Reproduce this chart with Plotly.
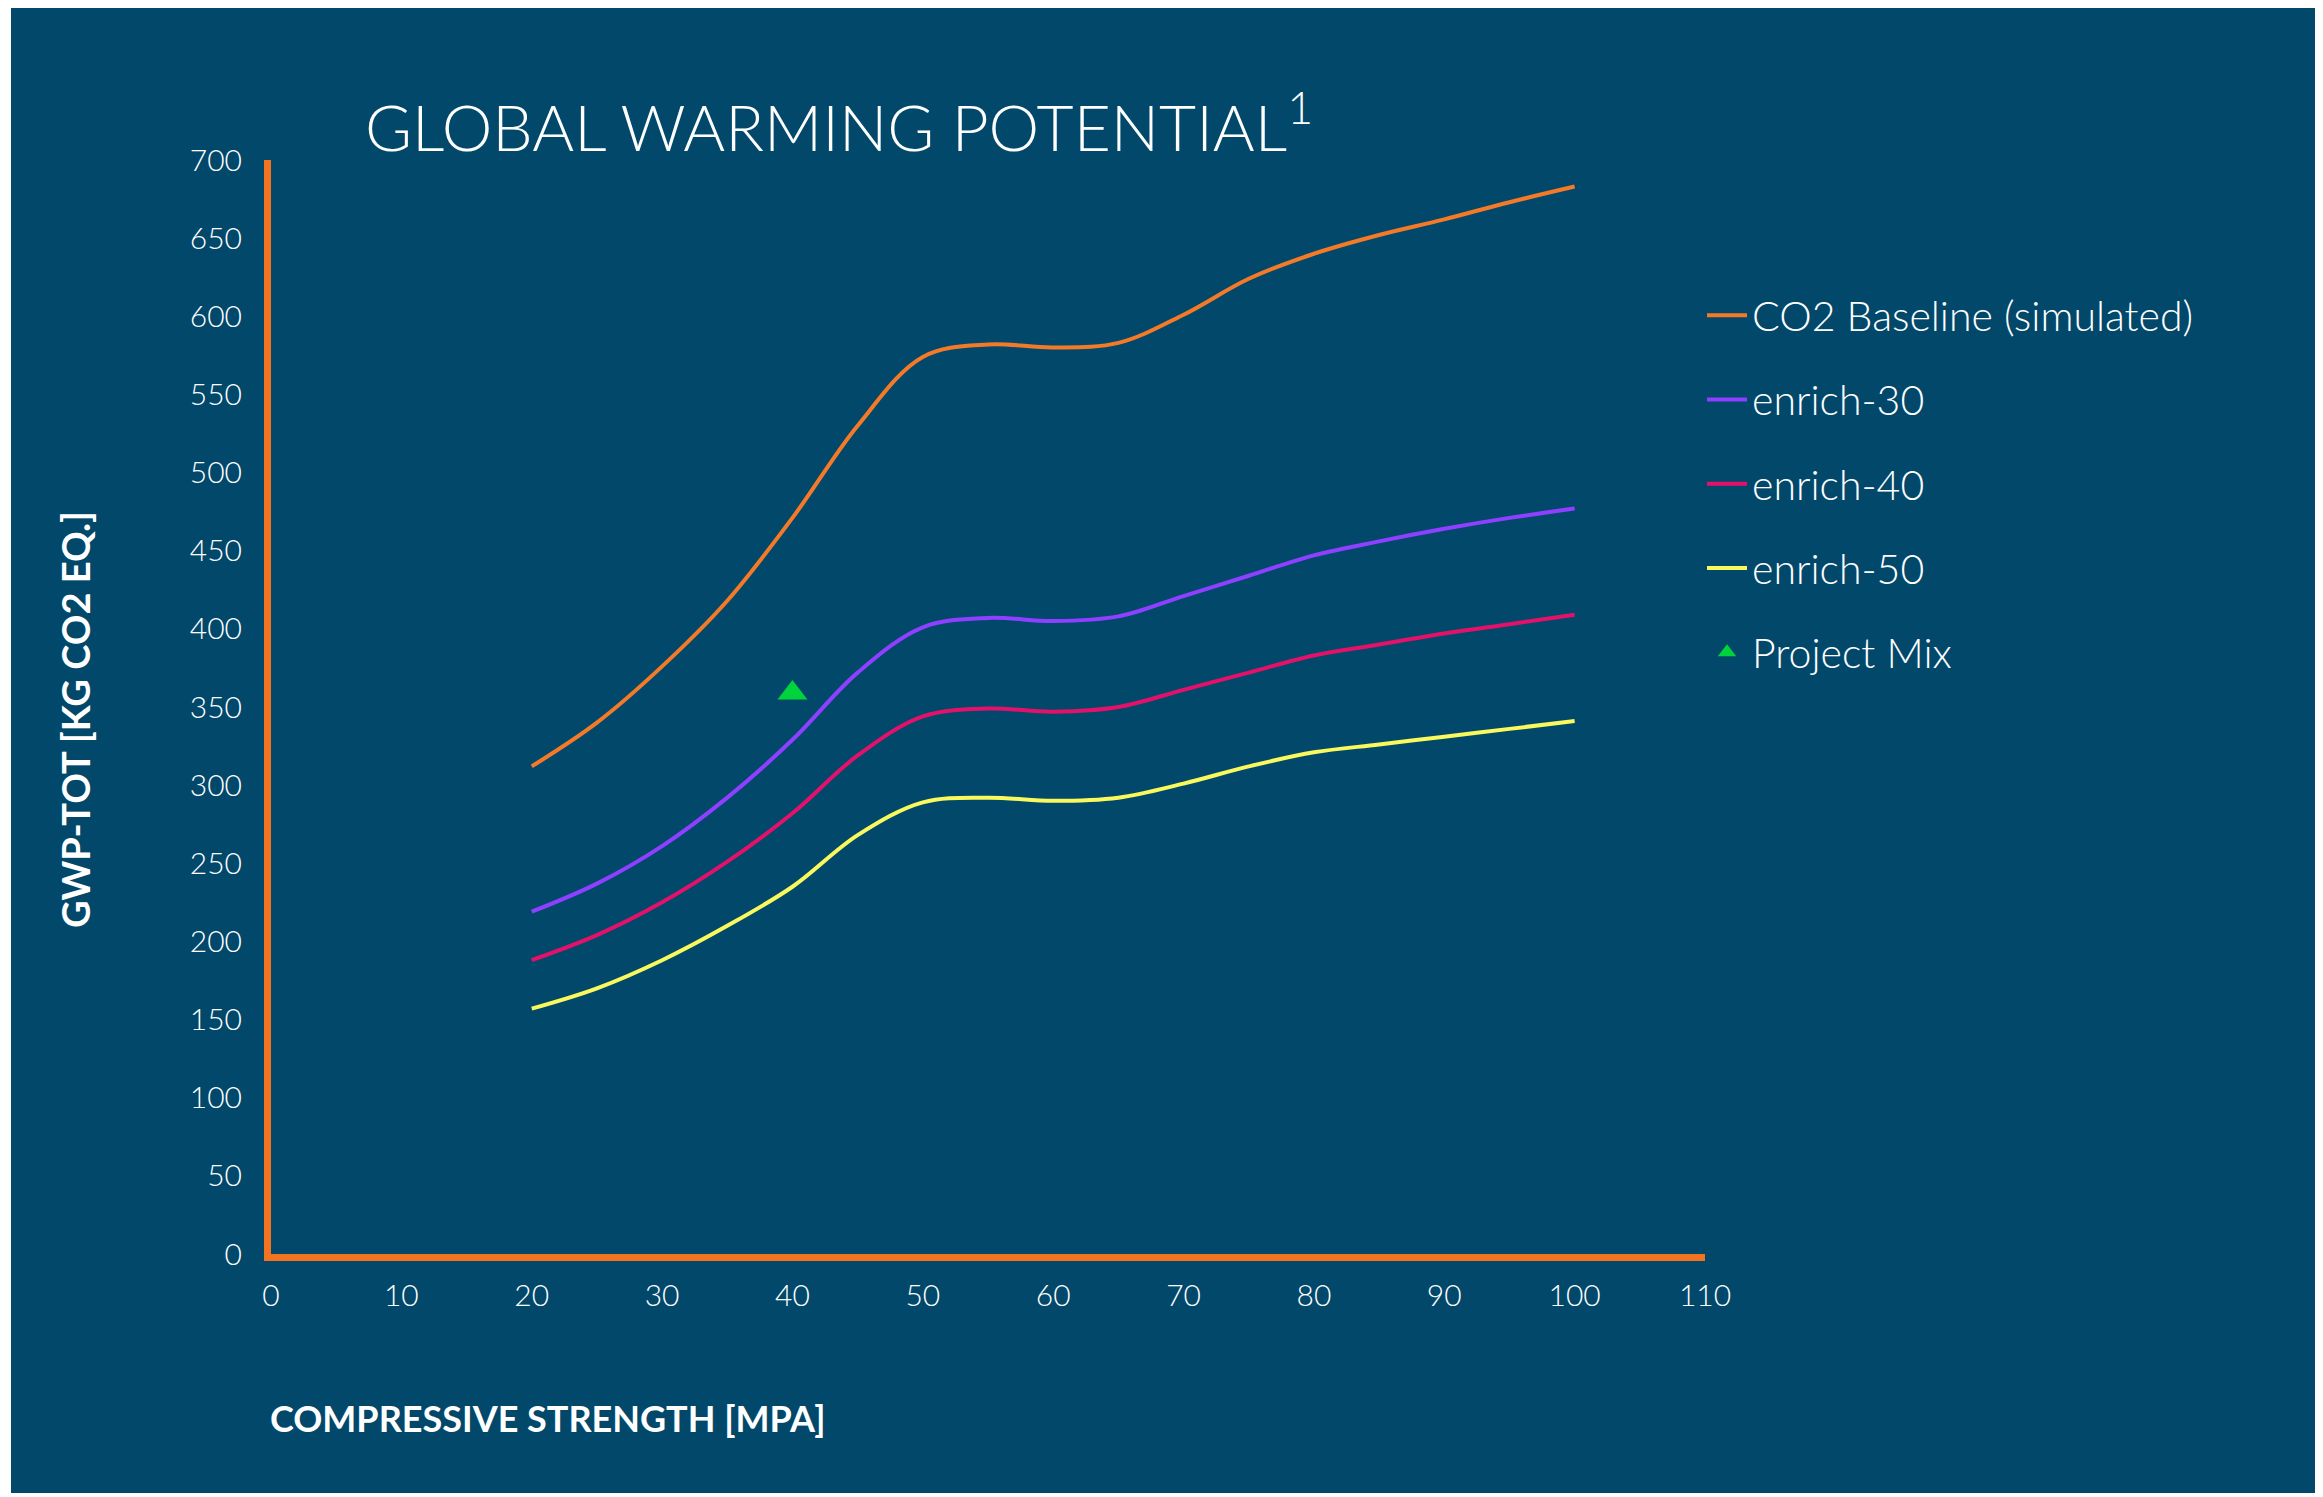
import plotly.graph_objects as go

# ---- data ----
strength = [20, 25, 30, 35, 40, 45, 50, 55, 60, 65, 70, 75, 80, 85, 90, 95, 100]
co2_baseline = [312, 340, 376, 418, 471, 530, 574, 582, 580, 583, 601, 624, 640, 652, 662, 673, 683]
enrich_30 = [219, 237, 261, 292, 329, 372, 401, 407, 405, 408, 421, 434, 447, 456, 464, 471, 477]
enrich_40 = [188, 204, 225, 251, 282, 319, 344, 349, 347, 350, 361, 372, 383, 390, 397, 403, 409]
enrich_50 = [157, 170, 188, 210, 235, 268, 289, 292, 290, 292, 301, 312, 321, 326, 331, 336, 341]
project_x = [40]
project_y = [359]

series_names = ["CO2 Baseline (simulated)", "enrich-30", "enrich-40", "enrich-50"]
series_values = [co2_baseline, enrich_30, enrich_40, enrich_50]
series_colors = ["#F47A28", "#8F3FFF", "#E4116B", "#F9F85C"]

x_ticks = list(range(0, 111, 10))
y_ticks = list(range(0, 701, 50))

BG = "#01486B"
AXIS = "#F47320"
FONT = "Lato"

# the page body adds an 8px margin; work in screen pixels and subtract it
OFF = 8
W, H = 2323 - OFF, 1497 - OFF
X0_SCREEN, X110_SCREEN = 271, 1705
Y700_SCREEN, Y0_SCREEN = 160, 1254
L = X0_SCREEN - OFF
T = Y700_SCREEN - OFF
R = W - (X110_SCREEN - OFF)
B = H - (Y0_SCREEN - OFF)
PW, PH = W - L - R, H - T - B


def px_x(p):
    return (p - OFF - L) / PW


def px_y(p):
    return (H - B - (p - OFF)) / PH


fig = go.Figure()
for name, vals, col in zip(series_names, series_values, series_colors):
    fig.add_trace(go.Scatter(
        x=strength, y=vals, mode="lines", name=name, legendgroup=name,
        line=dict(color=col, width=4, shape="spline", smoothing=1.0),
    ))
fig.add_trace(go.Scatter(
    x=project_x, y=project_y, mode="markers", name="Project Mix", legendgroup="pm",
    marker=dict(symbol="triangle-up", size=26, color="#00D33B"),
))

fig.update_layout(
    width=W, height=H,
    margin=dict(l=L, r=R, t=T, b=B, pad=0),
    paper_bgcolor="white",
    plot_bgcolor="rgba(0,0,0,0)",
    font=dict(family=FONT, color="white"),
    showlegend=True,
    legend=dict(
        x=px_x(1702), y=px_y(282), xanchor="left", yanchor="top",
        bgcolor="rgba(0,0,0,0)",
        font=dict(family=FONT, size=41, color="white", weight=300),
        tracegroupgap=28,
        itemwidth=40,
    ),
    xaxis=dict(
        range=[0, 110], tickvals=x_ticks, ticktext=[str(v) for v in x_ticks],
        showgrid=False, zeroline=False, showline=True, linecolor=AXIS, linewidth=7,
        ticks="", ticklabelstandoff=9,
        tickfont=dict(family=FONT, size=30, color="white", weight=300),
    ),
    yaxis=dict(
        range=[0, 700], tickvals=y_ticks, ticktext=[str(v) for v in y_ticks],
        showgrid=False, zeroline=False, showline=True, linecolor=AXIS, linewidth=7,
        ticks="", ticklabelstandoff=16,
        tickfont=dict(family=FONT, size=30, color="white", weight=300),
    ),
    shapes=[dict(
        type="rect", xref="paper", yref="paper", layer="below",
        x0=px_x(11), x1=px_x(2318), y0=px_y(1493), y1=px_y(0),
        fillcolor=BG, line=dict(width=0),
    )],
    annotations=[
        dict(text="GLOBAL WARMING POTENTIAL<sup>1</sup>", xref="paper", yref="paper",
             x=px_x(363), y=px_y(122), xanchor="left", yanchor="middle", showarrow=False,
             font=dict(family=FONT, size=64, color="white", weight=300)),
        dict(text="COMPRESSIVE STRENGTH [MPA]", xref="paper", yref="paper",
             x=px_x(268), y=px_y(1418), xanchor="left", yanchor="middle", showarrow=False,
             font=dict(family=FONT, size=36, color="white", weight=700)),
        dict(text="GWP-TOT [KG CO2 EQ.]", xref="paper", yref="paper", textangle=-90,
             x=px_x(75), y=px_y(720), xanchor="center", yanchor="middle", showarrow=False,
             font=dict(family=FONT, size=38, color="white", weight=700)),
    ],
)

fig.write_html("out.html")
